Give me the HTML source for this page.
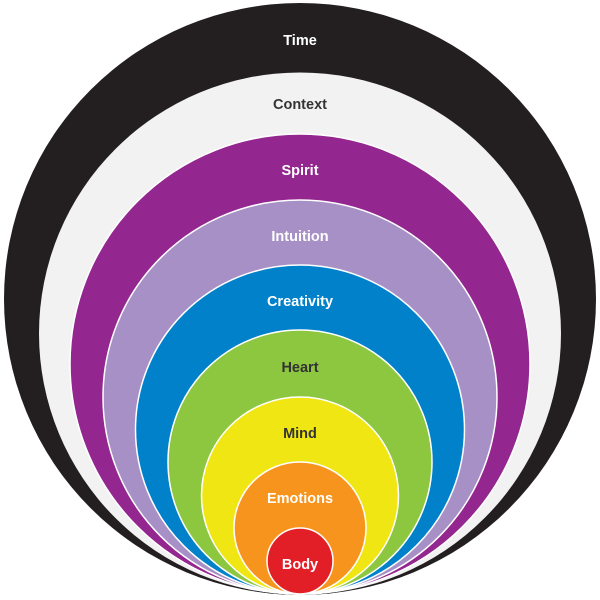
<!DOCTYPE html>
<html><head><style>body{margin:0;background:#fff}svg{display:block}text{font-family:"Liberation Sans",sans-serif;font-weight:bold;font-size:14.5px;text-anchor:middle}</style></head><body>
<svg width="600" height="600" viewBox="0 0 600 600">
<circle cx="300" cy="299" r="296" fill="#231f20"/>
<circle cx="300" cy="333.5" r="261" fill="#f2f2f2"/>
<circle cx="300" cy="364" r="230" fill="#93278f" stroke="#fff" stroke-width="1.5"/>
<circle cx="300" cy="397" r="197" fill="#a690c6" stroke="#fff" stroke-width="1.5"/>
<circle cx="300" cy="429.5" r="164.5" fill="#0081c9" stroke="#fff" stroke-width="1.5"/>
<circle cx="300" cy="462" r="132" fill="#8dc63f" stroke="#fff" stroke-width="1.5"/>
<circle cx="300" cy="495.5" r="98.5" fill="#f0e614" stroke="#fff" stroke-width="1.5"/>
<circle cx="300" cy="528" r="66" fill="#f7941d" stroke="#fff" stroke-width="1.5"/>
<circle cx="300" cy="561" r="33" fill="#e21f26" stroke="#fff" stroke-width="1.5"/>
<text x="300" y="45" fill="#fff">Time</text>
<text x="300" y="109" fill="#333">Context</text>
<text x="300" y="175" fill="#fff">Spirit</text>
<text x="300" y="241" fill="#fff">Intuition</text>
<text x="300" y="306" fill="#fff">Creativity</text>
<text x="300" y="372" fill="#333">Heart</text>
<text x="300" y="438" fill="#333">Mind</text>
<text x="300" y="503" fill="#fff">Emotions</text>
<text x="300" y="569" fill="#fff">Body</text>
</svg>
</body></html>
